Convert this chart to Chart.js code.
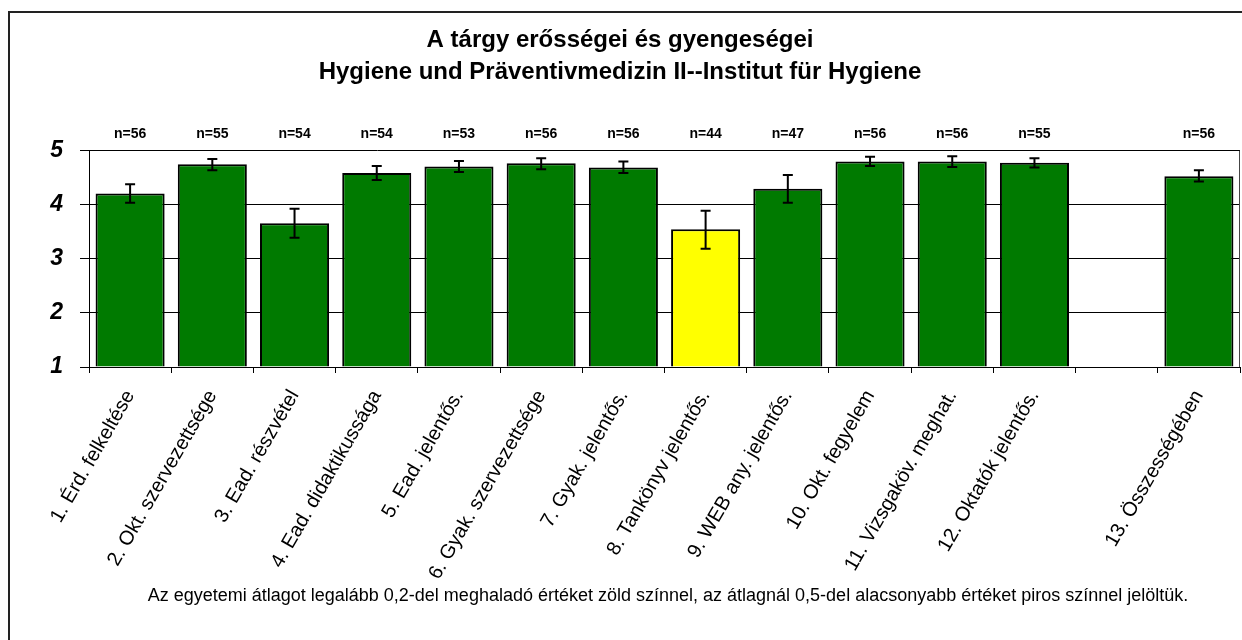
<!DOCTYPE html>
<html>
<head>
<meta charset="utf-8">
<title>A tárgy erősségei és gyengeségei</title>
<script src="https://cdn.jsdelivr.net/npm/chart.js@4.4.1/dist/chart.umd.min.js"></script>
<style>
  html, body { margin: 0; padding: 0; background: #fff; }
  #wrap { width: 1242px; height: 640px; position: relative; }
</style>
</head>
<body>
<div id="wrap"><canvas id="chart"></canvas></div>
<script>
// --- Data ---
const categories = [
    "1. Érd. felkeltése",
    "2. Okt. szervezettsége",
    "3. Ead. részvétel",
    "4. Ead. didaktikussága",
    "5. Ead. jelentős.",
    "6. Gyak. szervezettsége",
    "7. Gyak. jelentős.",
    "8. Tankönyv jelentős.",
    "9. WEB any. jelentős.",
    "10. Okt. fegyelem",
    "11. Vizsgaköv. meghat.",
    "12. Oktatók jelentős.",
    "",
    "13. Összességében",
];
const means = [4.21, 4.75, 3.66, 4.59, 4.71, 4.77, 4.69, 3.55, 4.30, 4.80, 4.80, 4.78, null, 4.53];
const errHigh = [4.38, 4.85, 3.93, 4.72, 4.81, 4.86, 4.80, 3.89, 4.55, 4.89, 4.90, 4.86, null, 4.64];
const errLow = [4.04, 4.64, 3.39, 4.46, 4.61, 4.66, 4.59, 3.19, 4.04, 4.72, 4.70, 4.69, null, 4.43];
const counts = [56, 55, 54, 54, 53, 56, 56, 44, 47, 56, 56, 55, null, 56];
const yTicks = [1, 2, 3, 4, 5];

const titleLines = [
    "A tárgy erősségei és gyengeségei",
    "Hygiene und Präventivmedizin II--Institut für Hygiene",
];
const footNote =
    "Az egyetemi átlagot legalább 0,2-del meghaladó értéket zöld színnel, az átlagnál 0,5-del alacsonyabb értéket piros színnel jelöltük.";

// --- Styles ---
const GREEN = "#007a00";
const YELLOW = "#ffff00";
const barColors = means.map((v, i) => (i === 7 ? YELLOW : GREEN));
const FONT = "Arial, 'Liberation Sans', sans-serif";

// frame, plot border, error bars, n= labels and the footnote
const extrasPlugin = {
    id: "extras",
    beforeDraw(chart) {
        const c = chart.ctx;
        c.save();
        c.strokeStyle = "#222";
        c.lineWidth = 2;
        c.strokeRect(9, 12, 1260, 700); // outer frame (cropped at right/bottom)
        c.restore();
    },
    afterDatasetsDraw(chart) {
        const c = chart.ctx;
        const x = chart.scales.x;
        const y = chart.scales.y;
        const area = chart.chartArea;

        // right edge of plot area
        c.save();
        c.strokeStyle = "#444";
        c.lineWidth = 1;
        c.beginPath();
        c.moveTo(area.right - 0.5, area.top);
        c.lineTo(area.right - 0.5, area.bottom);
        c.stroke();

        // error bars
        c.strokeStyle = "#000";
        c.lineWidth = 2;
        means.forEach((v, i) => {
            if (v === null) return;
            const px = x.getPixelForValue(i);
            const top = y.getPixelForValue(errHigh[i]);
            const bot = y.getPixelForValue(errLow[i]);
            c.beginPath();
            c.moveTo(px, top);
            c.lineTo(px, bot);
            c.moveTo(px - 5, top);
            c.lineTo(px + 5, top);
            c.moveTo(px - 5, bot);
            c.lineTo(px + 5, bot);
            c.stroke();
        });

        // n= labels
        c.fillStyle = "#000";
        c.font = "bold 14px " + FONT;
        c.textAlign = "center";
        c.textBaseline = "middle";
        counts.forEach((n, i) => {
            if (n === null) return;
            c.fillText("n=" + n, x.getPixelForValue(i), 134);
        });

        // footnote (centred on the full, cropped frame)
        c.font = "18px " + FONT;
        c.fillText(footNote, 668, 596);
        c.restore();
    },
};

const ctx = document.getElementById("chart").getContext("2d");
const chart = new Chart(ctx, {
    type: "bar",
    data: {
        labels: categories,
        datasets: [
            {
                data: means,
                base: 1,
                backgroundColor: barColors,
                borderColor: "#000",
                borderWidth: 2,
                barPercentage: 0.84,
                categoryPercentage: 1,
            },
        ],
    },
    options: {
        responsive: true,
        maintainAspectRatio: false,
        animation: false,
        devicePixelRatio: 1,
        layout: { padding: { left: 0, right: 2, top: 0, bottom: 55 } },
        plugins: {
            legend: { display: false },
            tooltip: { enabled: false },
            title: {
                display: true,
                text: titleLines,
                color: "#000",
                font: { family: FONT, size: 24, weight: "bold", lineHeight: 1.35 },
                padding: { top: 24, bottom: 62 },
            },
        },
        scales: {
            x: {
                offset: true,
                grid: {
                    offset: true,
                    drawOnChartArea: false,
                    drawTicks: true,
                    tickLength: 6,
                    color: "#000",
                },
                border: { display: true, color: "#000", width: 1 },
                ticks: {
                    autoSkip: false,
                    minRotation: 60,
                    maxRotation: 60,
                    padding: 13,
                    color: "#000",
                    font: { family: FONT, size: 20 },
                },
                afterFit(scale) {
                    scale.height = 218;
                },
            },
            y: {
                min: 1,
                max: 5,
                afterBuildTicks(scale) {
                    scale.ticks = yTicks.map((v) => ({ value: v }));
                },
                grid: {
                    color: "#000",
                    lineWidth: 1,
                    tickLength: 9,
                },
                border: { display: true, color: "#000", width: 1 },
                ticks: {
                    padding: 17,
                    color: "#000",
                    font: { family: FONT, size: 23, weight: "bold", style: "italic" },
                },
                afterFit(scale) {
                    scale.width = 89;
                },
            },
        },
    },
    plugins: [extrasPlugin],
});
</script>
</body>
</html>
